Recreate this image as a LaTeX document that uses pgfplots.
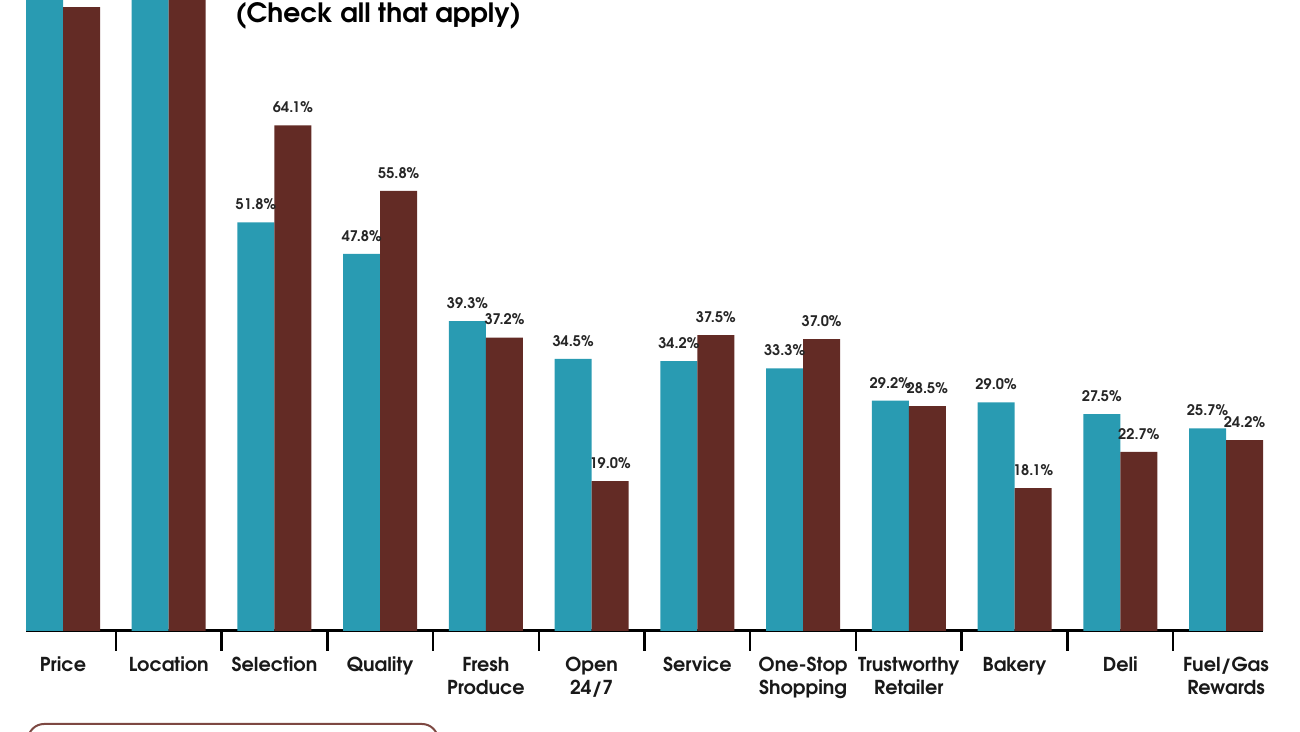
\documentclass[border=0pt]{standalone}
\usepackage{fontspec}
\setmainfont{texgyreadventor}[Extension=.otf, UprightFont=*-regular, BoldFont=*-bold, ItalicFont=*-italic, BoldItalicFont=*-bolditalic]
\usepackage{pgfplots}
\pgfplotsset{compat=1.18}
\definecolor{teal1}{RGB}{41,155,178}
\definecolor{brown1}{RGB}{99,43,37}
\definecolor{boxc}{RGB}{125,72,66}
\begin{document}
\begin{tikzpicture}[x=1pt,y=1pt]
\begin{axis}[
  at={(13pt,50.5pt)}, anchor=south west,
  scale only axis, width=618.5pt, height=315.5pt,
  ymin=0, ymax=80, xmin=-0.35, xmax=11.35,
  axis x line=bottom, axis y line=none,
  x axis line style={-, line width=1.5pt, black},
  ytick=\empty,
  xtick={0,...,11},
  xticklabels={Price,Location,Selection,Quality,Fresh\\Produce,Open\\24/7,Service,One-Stop\\Shopping,Trustworthy\\Retailer,Bakery,Deli,Fuel/Gas\\Rewards},
  minor xtick={0.5,1.5,...,10.5},
  major tick length=0pt, minor tick length=10pt, tick align=outside,
  minor tick style={line width=1.2pt, black},
  xticklabel style={font=\bfseries\fontsize{9.6}{11.5}\selectfont, align=center, anchor=north, yshift=-9.5pt, text=black!90},
  /pgf/number format/assume math mode=true,
  ybar, bar width=18.5pt,
  every node near coord/.append style={font=\bfseries\fontsize{7.3}{8}\selectfont, text=black!85, anchor=south, inner sep=0pt, yshift=6pt},
  nodes near coords={\pgfmathprintnumber[fixed,fixed zerofill,precision=1]{\pgfplotspointmeta}\%},
  clip=true,
]
% off-chart values (cropped at top)
\addplot[fill=teal1, draw=none, bar shift=-9.25pt, nodes near coords=] coordinates {(0,86) (1,88)};
\addplot[fill=brown1, draw=none, bar shift=9.25pt, nodes near coords=] coordinates {(0,79.1) (1,86)};
% visible values
\addplot[fill=teal1, draw=none, bar shift=-9.25pt] coordinates {
(2,51.8) (3,47.8) (4,39.3) (5,34.5) (6,34.2) (7,33.3) (8,29.2) (9,29.0) (10,27.5) (11,25.7)};
\addplot[fill=brown1, draw=none, bar shift=9.25pt] coordinates {
(2,64.1) (3,55.8) (4,37.2) (5,19.0) (6,37.5) (7,37.0) (8,28.5) (9,18.1) (10,22.7) (11,24.2)};
\end{axis}
\node[anchor=base west, inner sep=0pt, font=\bfseries\fontsize{13.3}{16}\selectfont] at (117.5pt,354.5pt) {(Check all that apply)};
\draw[boxc, line width=1pt, rounded corners=8pt] (14pt,-20pt) rectangle (219pt,4pt);
\pgfresetboundingbox
\useasboundingbox (0,0) rectangle (650pt,366pt);
\end{tikzpicture}
\end{document}
